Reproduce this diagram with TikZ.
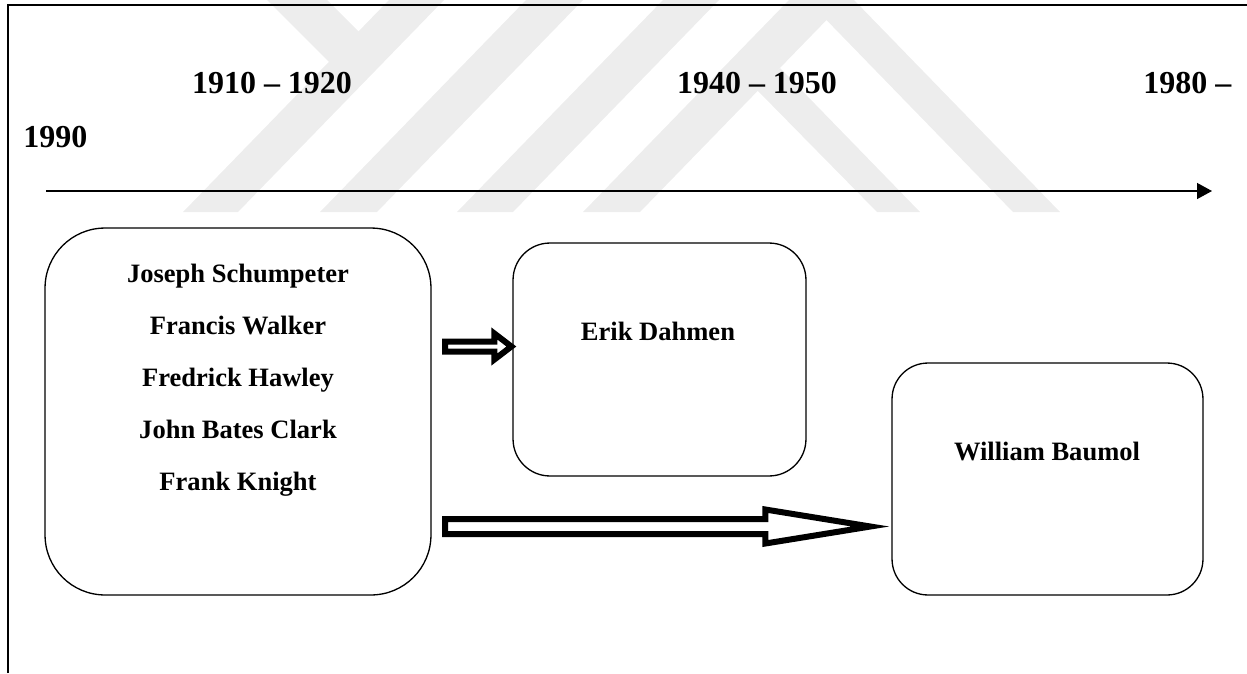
\documentclass[tikz,border=0pt]{standalone}
\usepackage{fontspec}
\setmainfont{Liberation Serif}
\usetikzlibrary{arrows.meta}
\usetikzlibrary{calc}
\definecolor{wmgray}{gray}{0.93}

\tikzset{
	era/.style={font=\bfseries\fontsize{18.2}{22}\selectfont, inner sep=0pt},
	who/.style={font=\bfseries\fontsize{15.1}{29.6}\selectfont, align=center, inner sep=0pt},
	econ/.style={draw, line width=0.75pt, rounded corners=#1},
	blockarrow/.style={draw, fill=white, line width=0.12cm, line join=miter},
}

\begin{document}
\begin{tikzpicture}[x=0.02cm, y=-0.02cm]
	\useasboundingbox (0,0) rectangle (1247,673);
	% watermark
	\fill[wmgray] (183,212) -- (238,212) -- (444,0) -- (389,0) -- cycle;
	\fill[wmgray] (267,0) -- (327,0) -- (386,59) -- (329,62) -- cycle;
	\fill[wmgray] (320,212) -- (377,212) -- (583,0) -- (526,0) -- cycle;
	\fill[wmgray] (457,212) -- (513,212) -- (719,0) -- (663,0) -- cycle;
	\fill[wmgray] (583,212) -- (640,212) -- (846,0) -- (789,0) -- cycle;
	\fill[wmgray] (807,0) -- (854,0) -- (1060,212) -- (1013,212) -- cycle;
	\fill[wmgray] (757,90) -- (780,68) -- (920,212) -- (877,212) -- cycle;
	% frame
	\draw[line width=1.1pt] (8,673) -- (8,5) -- (1247,5);

	\node[era, anchor=base] (e1) at (272,93) {1910 – 1920};
	\node[era, anchor=base] (e2) at (757,93) {1940 – 1950};
	\node[era, anchor=base west] (e3) at (1143,93) {1980 –};
	\node[era, anchor=base west] (e3b) at (23,147) {1990};

	\coordinate (tstart) at (46,191);
	\coordinate (tend) at (1212,191);
	\draw[line width=0.75pt, -{Triangle[length=0.3cm, width=0.32cm]}] (tstart) -- (tend);

	\node[econ=1.2cm, minimum width=7.72cm, minimum height=7.34cm] (pioneers) at (238,411.5) {};
	\node[econ=0.74cm, minimum width=5.86cm, minimum height=4.66cm] (dahmen) at (659.5,359.5) {};
	\node[econ=0.72cm, minimum width=6.22cm, minimum height=4.64cm] (baumol) at (1047.5,479) {};

	\node[who] (pioneersnames) at (238,380) {Joseph Schumpeter\\Francis Walker\\Fredrick Hawley\\John Bates Clark\\Frank Knight};
	\node[who, anchor=base] (dahmenname) at (658,340) {Erik Dahmen};
	\node[who, anchor=base] (baumolname) at (1047,460) {William Baumol};

	\coordinate (a1) at (445,346.5);
	\coordinate (b1) at ($(dahmen.west |- a1)+(-1,0)$);
	\draw[blockarrow] ($(a1)+(0,-5)$) -- ($(b1)+(-17,-5)$) -- ($(b1)+(-17,-13)$) -- (b1)
		-- ($(b1)+(-17,13)$) -- ($(b1)+(-17,5)$) -- ($(a1)+(0,5)$) -- cycle;
	\coordinate (a2) at (445,526.5);
	\coordinate (b2) at ($(baumol.west |- a2)+(-21,0)$);
	\draw[blockarrow] ($(a2)+(0,-7.5)$) -- ($(b2)+(-105,-7.5)$) -- ($(b2)+(-105,-17)$) -- (b2)
		-- ($(b2)+(-105,17)$) -- ($(b2)+(-105,7.5)$) -- ($(a2)+(0,7.5)$) -- cycle;
\end{tikzpicture}
\end{document}
